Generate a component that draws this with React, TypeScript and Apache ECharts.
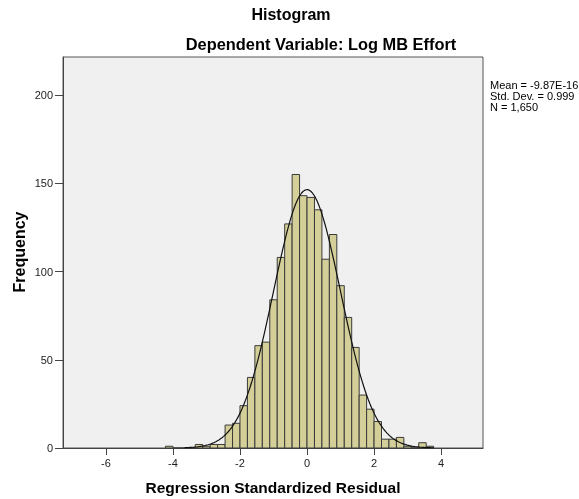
import React, { useEffect, useRef } from "react";
import * as echarts from "echarts";

// ---- data ----
const binWidth = 2 / 9;
const firstBinLower = -38 / 9; // ≈ -4.222
const binCounts = [
  1, 0, 0, 0, 2, 1, 2, 2, 13, 14, 24, 40, 58, 60, 84, 108, 127, 155, 143, 142,
  135, 107, 121, 92, 74, 57, 30, 22, 15, 5, 5, 6, 1, 0, 3, 1,
];
const xTicks = [-6, -4, -2, 0, 2, 4];
const yTicks = [0, 50, 100, 150, 200];
const statsLines = ["Mean = -9.87E-16", "Std. Dev. = 0.999", "N = 1,650"];
const fitMean = -9.87e-16;
const fitSd = 0.999;
const fitN = 1650;
const curveFrom = -3.65;
const curveTo = 3.78;

const FONT = "'Liberation Sans', Arial, sans-serif";

export default function App() {
  const ref = useRef<HTMLDivElement>(null);
  useEffect(() => {
    if (!ref.current) return;
    const chart = echarts.init(ref.current, undefined, { renderer: "svg" });

    const bars = binCounts.map((c, i) => {
      const lo = firstBinLower + i * binWidth;
      return [lo, lo + binWidth, c];
    });

    const curve: number[][] = [];
    const steps = 160;
    for (let k = 0; k <= steps; k++) {
      const x = curveFrom + ((curveTo - curveFrom) * k) / steps;
      const z = (x - fitMean) / fitSd;
      const y = (fitN * binWidth * Math.exp(-0.5 * z * z)) / (fitSd * Math.sqrt(2 * Math.PI));
      curve.push([x, y]);
    }

    chart.setOption({
      animation: false,
      grid: {
        left: 63,
        top: 57,
        right: 96,
        bottom: 51,
        show: true,
        backgroundColor: "#f0f0f0",
        borderColor: "#555",
        borderWidth: 1,
      },
      xAxis: {
        type: "value",
        min: -7.28,
        max: 5.25,
        splitLine: { show: false },
        axisLine: { show: true, onZero: false, lineStyle: { color: "#444", width: 1 } },
        axisTick: { show: true, customValues: xTicks, length: 7, lineStyle: { color: "#444" } },
        axisLabel: {
          customValues: xTicks,
          margin: 9,
          fontSize: 11,
          color: "#222",
          fontFamily: FONT,
        },
      },
      yAxis: {
        type: "value",
        min: 0,
        max: 221.6,
        splitLine: { show: false },
        axisLine: { show: true, onZero: false, lineStyle: { color: "#444", width: 1 } },
        axisTick: { show: true, customValues: yTicks, length: 8, lineStyle: { color: "#444" } },
        axisLabel: {
          customValues: yTicks,
          margin: 10,
          fontSize: 11,
          color: "#222",
          fontFamily: FONT,
        },
      },
      graphic: [
        {
          type: "text",
          x: 291,
          y: 14,
          style: {
            text: "Histogram",
            font: `bold 16px ${FONT}`,
            fill: "#000",
            align: "center",
            verticalAlign: "middle",
          },
        },
        {
          type: "text",
          x: 321,
          y: 44,
          style: {
            text: "Dependent Variable: Log MB Effort",
            font: `bold 16.4px ${FONT}`,
            fill: "#000",
            align: "center",
            verticalAlign: "middle",
          },
        },
        {
          type: "text",
          x: 273,
          y: 487,
          style: {
            text: "Regression Standardized Residual",
            font: `bold 15.5px ${FONT}`,
            fill: "#000",
            align: "center",
            verticalAlign: "middle",
          },
        },
        {
          type: "text",
          x: 19,
          y: 252,
          rotation: Math.PI / 2,
          style: {
            text: "Frequency",
            font: `bold 16px ${FONT}`,
            fill: "#000",
            align: "center",
            verticalAlign: "middle",
          },
        },
        {
          type: "text",
          x: 490,
          y: 79,
          style: {
            text: statsLines.join("\n"),
            font: `11px ${FONT}`,
            lineHeight: 11,
            fill: "#000",
            align: "left",
            verticalAlign: "top",
          },
        },
      ],
      series: [
        {
          type: "custom",
          data: bars,
          encode: { x: [0, 1], y: 2 },
          renderItem: (params: any, api: any) => {
            const p0 = api.coord([api.value(0), api.value(2)]);
            const p1 = api.coord([api.value(1), 0]);
            return {
              type: "rect",
              shape: { x: p0[0], y: p0[1], width: p1[0] - p0[0], height: p1[1] - p0[1] },
              style: { fill: "#d4cf98", stroke: "#3a3a3a", lineWidth: 1 },
            };
          },
          z: 2,
        },
        {
          type: "line",
          data: curve,
          showSymbol: false,
          smooth: false,
          lineStyle: { color: "#111", width: 1.2 },
          z: 3,
        },
      ],
    });
    return () => chart.dispose();
  }, []);
  return (
    <div
      ref={ref}
      style={{ position: "fixed", left: 0, top: 0, width: 579, height: 499 }}
    />
  );
}
